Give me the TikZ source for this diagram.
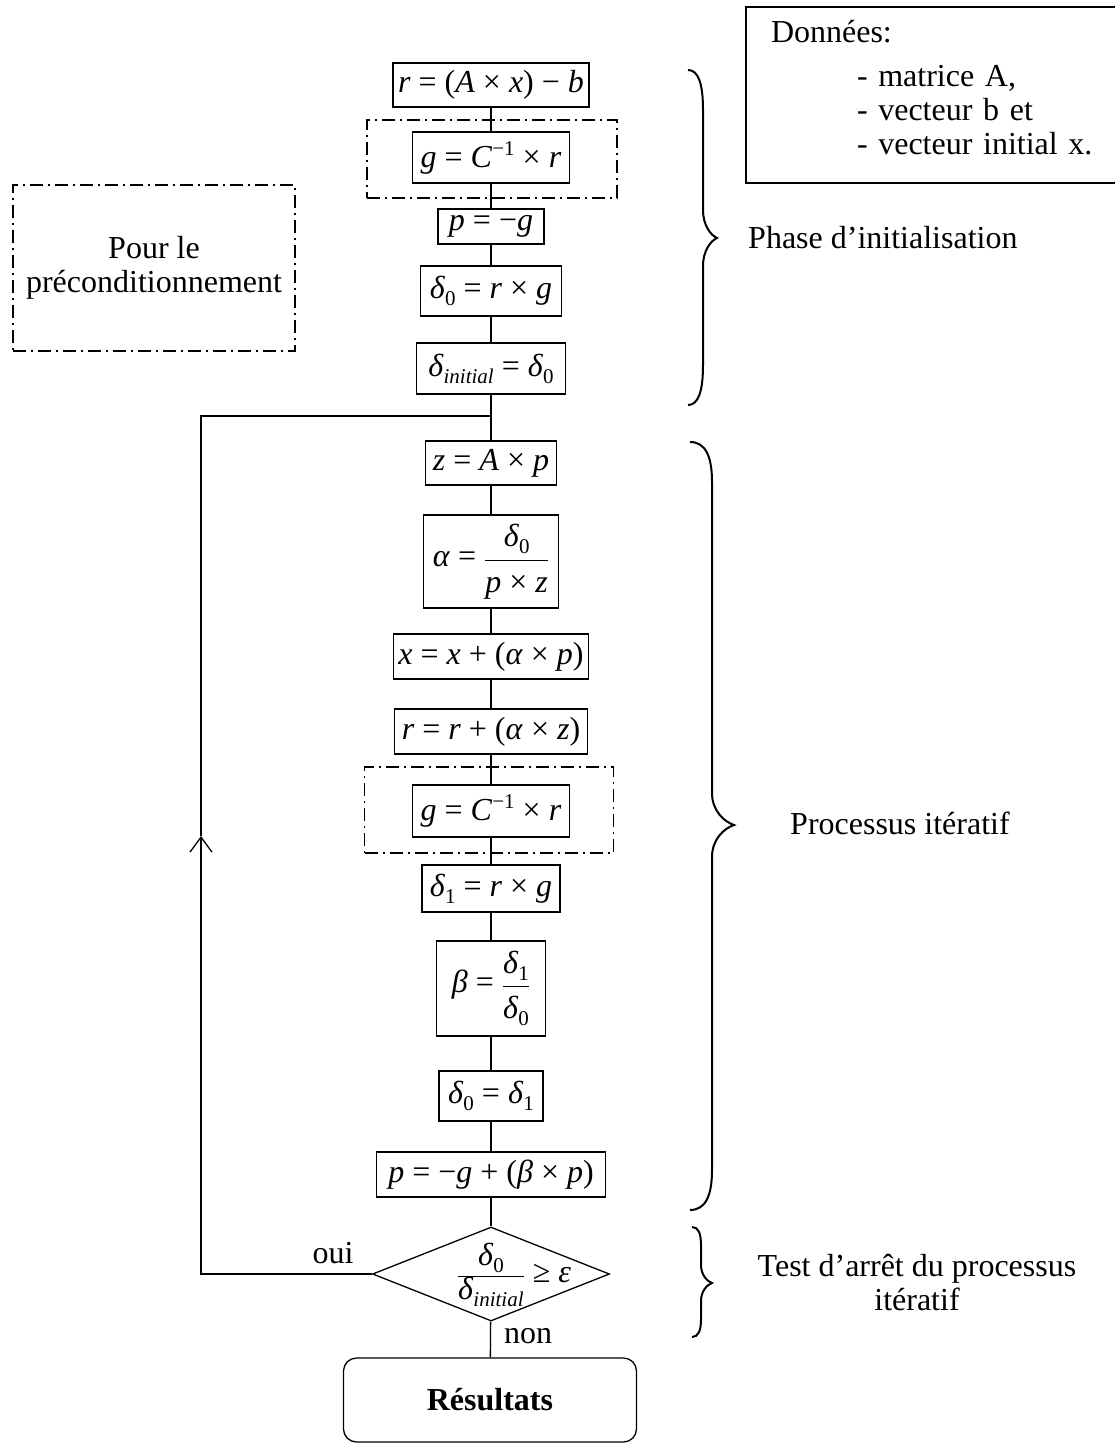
\documentclass[tikz,border=0pt]{standalone}
\usepackage{fontspec}
\setmainfont{Liberation Serif}
\usetikzlibrary{shapes.geometric,arrows.meta}
\newcommand\vi[1]{\textit{#1}}
\newcommand\sbs[1]{\raisebox{-7pt}{\fontsize{21}{21}\selectfont #1}}
\newcommand\sps[1]{\raisebox{12pt}{\fontsize{21}{21}\selectfont #1}}
\newcommand\op[1]{\hspace{0.25em}#1\hspace{0.25em}}
\newcommand\fr[2]{$\displaystyle\frac{\hbox{\rule[-5pt]{0pt}{5pt}#1}}{\hbox{\rule{0pt}{21pt}#2}}$}
\newcommand\frb[2]{$\displaystyle\frac{\hbox{\rule[-12pt]{0pt}{12pt}#1}}{\hbox{\rule{0pt}{31pt}#2}}$}
% brace: #1 xl, #2 xs, #3 xt, #4 ytop, #5 ytip, #6 ybot, #7 end curve, #8 tip curve
\newcommand\phasebrace[8]{%
 \draw[bracecurve] (#1,#4) .. controls ({#1+0.7*(#2-#1)},#4) and (#2,{#4+0.35*#7}) .. (#2,{#4+#7})
   -- (#2,{#5-#8}) .. controls (#2,{#5-0.45*#8}) and ({#2+0.55*(#3-#2)},{#5-0.1*#8}) .. (#3,#5)
   .. controls ({#2+0.55*(#3-#2)},{#5+0.1*#8}) and (#2,{#5+0.45*#8}) .. (#2,{#5+#8})
   -- (#2,{#6-#7}) .. controls (#2,{#6-0.35*#7}) and ({#1+0.7*(#2-#1)},#6) .. (#1,#6);}
\tikzset{
 stepbox/.style={draw, line width=1.3pt, inner sep=2pt},
 prebox/.style={draw, line width=1.3pt, dash pattern=on 13pt off 5pt on 2pt off 5pt},
 link/.style={line width=1.3pt},
 bracecurve/.style={line width=2pt},
 plain/.style={inner sep=1pt},
}
\begin{document}
\begin{tikzpicture}[x=1pt,y=-1pt,font=\fontsize{32}{34}\selectfont]
\useasboundingbox (0,0) rectangle (1115,1443);
% data box
\node[draw, line width=1.8pt, minimum width=379pt, minimum height=176pt, text width=329pt, inner xsep=25pt, align=left] (data) at (935.5,95)
 {Données:\\[10pt]\hspace*{86pt}- matrice A,\\\hspace*{86pt}- vecteur b et\\\hspace*{86pt}- vecteur initial x.\rule[-16pt]{0pt}{16pt}};
% preconditioning legend
\node[prebox, minimum width=282pt, minimum height=166pt, align=center] (tpre) at (154,268) {Pour le\\préconditionnement};
% preconditioning frames
\node[prebox, minimum width=250pt, minimum height=78pt] (pre1) at (492,159) {};
\node[prebox, minimum width=249pt, minimum height=86pt] (pre2) at (489,810) {};
% steps
\node[stepbox, minimum width=196pt, minimum height=44pt] (r1) at (491,85) {\vi{r}\op{=}(\vi{A}\op{×}\vi{x})\op{−}\vi{b}};
\node[stepbox, minimum width=157pt, minimum height=51pt] (g1) at (491,157.5) {\vi{g}\op{=}\vi{C}\sps{−1}\op{×}\vi{r}};
\node[stepbox, minimum width=106pt, minimum height=35pt] (p1) at (491,226.5) {\vi{p}\op{=}−\vi{g}};
\node[stepbox, minimum width=141pt, minimum height=50pt] (d0) at (491,291) {\vi{δ}\sbs{0}\op{=}\vi{r}\op{×}\vi{g}};
\node[stepbox, minimum width=149pt, minimum height=51pt] (dinit) at (491,368.5) {\vi{δ}\sbs{\vi{initial}}\op{=}\vi{δ}\sbs{0}};
\node[stepbox, minimum width=131pt, minimum height=44pt] (z) at (491,463) {\vi{z}\op{=}\vi{A}\op{×}\vi{p}};
\node[stepbox, minimum width=135pt, minimum height=93pt] (alpha) at (491,561.5) {\vi{α}\op{=}\frb{\vi{δ}\sbs{0}}{\vi{p}\op{×}\vi{z}}};
\node[stepbox, minimum width=195pt, minimum height=45pt] (xn) at (491,656.5) {\vi{x}\op{=}\vi{x}\op{+}(\vi{α}\op{×}\vi{p})};
\node[stepbox, minimum width=193pt, minimum height=45pt] (r2) at (491,731.5) {\vi{r}\op{=}\vi{r}\op{+}(\vi{α}\op{×}\vi{z})};
\node[stepbox, minimum width=157pt, minimum height=52pt] (g2) at (491,811) {\vi{g}\op{=}\vi{C}\sps{−1}\op{×}\vi{r}};
\node[stepbox, minimum width=138pt, minimum height=47pt] (d1) at (491,888.5) {\vi{δ}\sbs{1}\op{=}\vi{r}\op{×}\vi{g}};
\node[stepbox, minimum width=109pt, minimum height=95pt] (beta) at (491,988.5) {\vi{β}\op{=}\frb{\vi{δ}\sbs{1}}{\vi{δ}\sbs{0}}};
\node[stepbox, minimum width=104pt, minimum height=50pt] (d0d1) at (491,1096) {\vi{δ}\sbs{0}\op{=}\vi{δ}\sbs{1}};
\node[stepbox, minimum width=229pt, minimum height=45pt] (pn) at (491,1174.5) {\vi{p}\op{=}−\vi{g}\op{+}(\vi{β}\op{×}\vi{p})};
\node[diamond, draw, line width=1.3pt, minimum width=237pt, minimum height=94pt, inner sep=0pt] (dia) at (491,1274) {};
\node[plain] (ctest) at (514,1275) {\fr{\vi{δ}\sbs{0}}{\vi{δ}\sbs{\vi{initial}}}\op{≥}\vi{ε}};
\node[draw, line width=1.3pt, rounded corners=13pt, minimum width=293pt, minimum height=84pt] (res) at (490,1400) {\textbf{Résultats}};
\node[plain] (oui) at (333,1253) {oui};
\node[plain] (non) at (528,1336) {non};
% connectors
\draw[link] (r1) -- (g1);
\draw[link] (g1) -- (p1);
\draw[link] (p1) -- (d0);
\draw[link] (d0) -- (dinit);
\draw[link] (dinit) -- (z);
\draw[link] (z) -- (alpha);
\draw[link] (alpha) -- (xn);
\draw[link] (xn) -- (r2);
\draw[link] (r2) -- (g2);
\draw[link] (g2) -- (d1);
\draw[link] (d1) -- (beta);
\draw[link] (beta) -- (d0d1);
\draw[link] (d0d1) -- (pn);
\draw[link] (pn) -- (dia);
\draw[link] (dia) -- (res);
% loop back
\coordinate (junc) at (491,416);
\coordinate (lb) at (201,1274);
\coordinate (lt) at (201,416);
\coordinate (arr) at (201,836);
\draw[link, -{Straight Barb[length=15pt,width=22pt,line width=1.3pt]}] (dia.west) -- (lb) -- (arr);
\draw[link] (arr) -- (lt) -- (junc);
% braces and phase labels
\phasebrace{688}{703}{717}{70}{238}{405}{40}{28}
\phasebrace{690}{712}{734}{442}{825}{1210}{40}{32}
\phasebrace{692}{701}{712}{1227}{1283}{1337}{18}{18}
\node[plain, anchor=west] (tphase) at (747,238) {Phase d’initialisation};
\node[plain, anchor=west] (tproc) at (789,823) {Processus itératif};
\node[plain, align=center] (ttest) at (917,1283) {Test d’arrêt du processus\\itératif};
\end{tikzpicture}
\end{document}
